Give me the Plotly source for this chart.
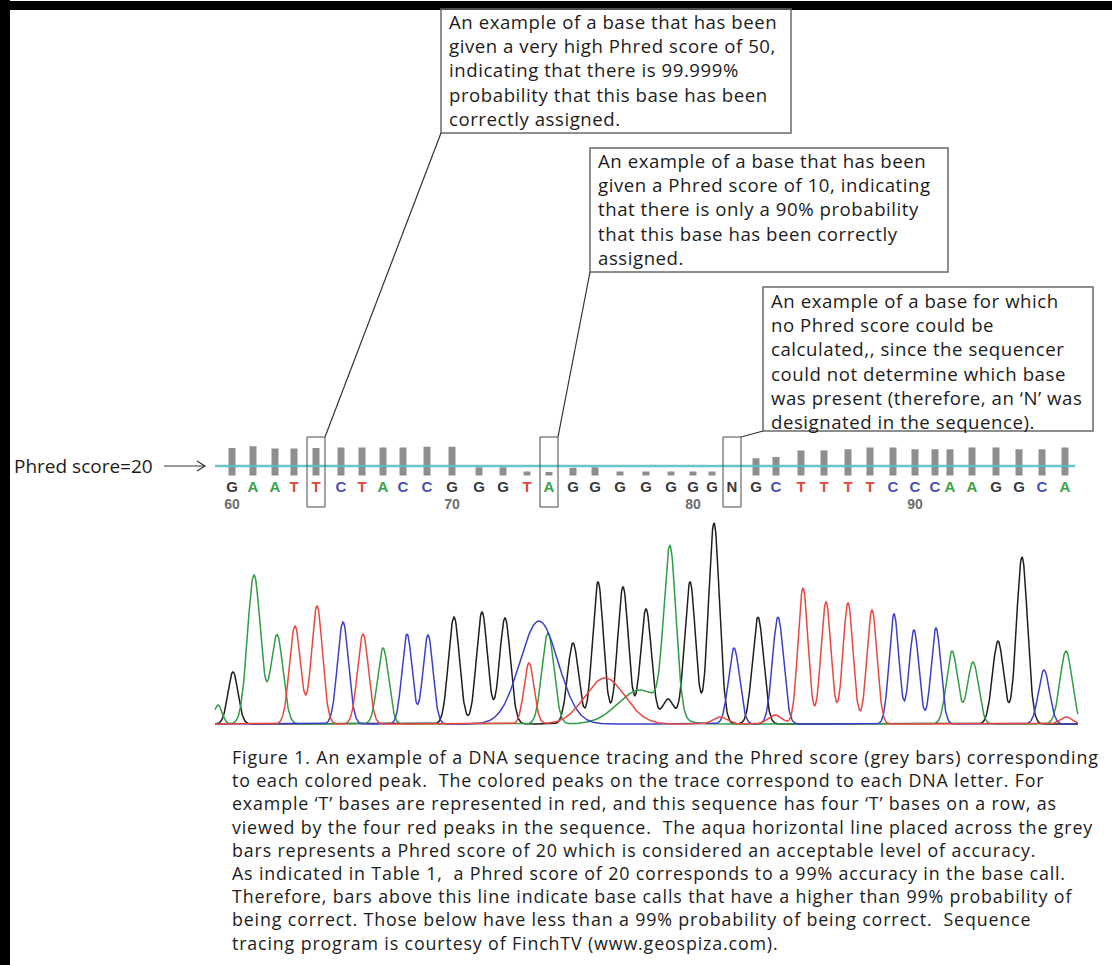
import numpy as np
import plotly.graph_objects as go

W, H = 1112, 965

# ---------------- base calls, bases 60-97 ----------------
bases = list("GAATTCTACCGGGTAGGGGGGGNGCTTTTCCCAAGGCA")
first_base = 60
# trace scan position of each called peak
peak_scan = [32, 53, 75, 94, 116, 141, 162, 183, 203, 227,
             252, 279, 303, 327, 349, 373, 395, 420, 446, 471,
             493, 512, 532, 556, 576, 601, 624, 648, 670, 693,
             715, 735, 750, 772, 796, 819, 842, 865]
# Phred quality per base (None = no score for the 'N' call)
phred = [50, 53, 49, 49, 50, 51, 51, 51, 51, 52,
         52, 18, 18, 11, 10, 17, 18, 11, 11, 11,
         11, 11, None, 33, 35, 46, 46, 48, 51, 51,
         48, 48, 48, 51, 51, 48, 48, 51]
phred_cutoff = 20
highlight_bases = [64, 74, 82]   # T (Q50), A (Q10), N (no score)

# ---------------- chromatogram peaks: (scan, height, width) ----------------
peaks_G = [(33, 520, 5.0), (254, 1070, 5.5), (282, 1120, 5.5), (305, 1060, 5.5),
           (373, 810, 5.5), (398, 1420, 5.5), (423, 1370, 5.5), (446, 1150, 5.5),
           (468, 250, 6.0), (490, 1420, 5.5), (514, 2010, 5.5), (558, 1070, 5.5),
           (798, 830, 5.5), (822, 1670, 5.5)]
peaks_A = [(18, 190, 4.0), (54, 1490, 6.5), (77, 890, 6.0), (183, 760, 5.5),
           (348, 910, 6.0), (440, 340, 22.0), (470, 1650, 6.0), (752, 730, 5.5),
           (773, 620, 5.5), (866, 730, 6.0)]
peaks_T = [(95, 980, 5.5), (117, 1180, 5.5), (163, 900, 5.5), (329, 610, 5.0),
           (405, 460, 20.0), (520, 70, 7.0), (575, 90, 7.0), (603, 1360, 5.0),
           (626, 1220, 5.0), (648, 1210, 5.0), (672, 1140, 5.0), (866, 70, 6.0)]
peaks_C = [(143, 1020, 5.5), (207, 900, 5.0), (228, 890, 5.0), (339, 1030, 19.0),
           (534, 760, 5.5), (578, 1070, 5.5), (694, 1100, 4.8), (714, 940, 4.8),
           (736, 960, 4.8), (844, 540, 5.5)]
trace_start, trace_end = 15, 878

dye_color = {"G": "#1e1e1e", "A": "#2f9e44", "T": "#e8473f", "C": "#3d3fc8"}
letter_color = {"G": "#3a3a3a", "A": "#3aa04a", "T": "#e2473d", "C": "#4a50b8", "N": "#3a3a3a"}

callout_high = ["An example of a base that has been",
                "given a very high Phred score of 50,",
                "indicating that there is 99.999%",
                "probability that this base has been",
                "correctly assigned."]
callout_low = ["An example of a base that has been",
               "given a Phred score of 10, indicating",
               "that there is only a 90% probability",
               "that this base has been correctly",
               "assigned."]
callout_n = ["An example of a base for which",
             "no Phred score could be",
             "calculated,, since the sequencer",
             "could not determine which base",
             "was present (therefore, an \u2018N\u2019 was",
             "designated in the sequence)."]
caption = ["Figure 1. An example of a DNA sequence tracing and the Phred score (grey bars) corresponding",
           "to each colored peak.  The colored peaks on the trace correspond to each DNA letter. For",
           "example \u2018T\u2019 bases are represented in red, and this sequence has four \u2018T\u2019 bases on a row, as",
           "viewed by the four red peaks in the sequence.  The aqua horizontal line placed across the grey",
           "bars represents a Phred score of 20 which is considered an acceptable level of accuracy.",
           "As indicated in Table 1,  a Phred score of 20 corresponds to a 99% accuracy in the base call.",
           "Therefore, bars above this line indicate base calls that have a higher than 99% probability of",
           "being correct. Those below have less than a 99% probability of being correct.  Sequence",
           "tracing program is courtesy of FinchTV (www.geospiza.com)."]

# ---------------- helpers for page placement ----------------
XR = (-200, W - 200)          # scan range across the page width
LINE = 1.3                    # plotly's multi-line spacing, in font sizes


def px(v):
    return v / W


def py(v):
    return 1 - v / H


def scan_paper(s):
    return (s - XR[0]) / (XR[1] - XR[0])


def text_block(lines, x_left, first_center, step, spacing):
    """One left-aligned multi-line annotation; line pitch `step` px."""
    size = step / LINE
    body = "<br>".join(f'<span style="letter-spacing:{spacing}px">{t}</span>' for t in lines)
    center = first_center + step * (len(lines) - 1) / 2
    return dict(text=body, xref="paper", yref="paper", x=px(x_left), y=py(center),
                xanchor="left", yanchor="middle", align="left", showarrow=False,
                font=dict(family="Open Sans", size=size, color="#1c1c1c"))


fig = go.Figure()

# quality bars
bar_x = [s for s, q in zip(peak_scan, phred) if q is not None]
bar_y = [q for q in phred if q is not None]
fig.add_trace(go.Bar(x=bar_x, y=bar_y, width=7, marker=dict(color="#8e8e8e", line=dict(width=0)),
                     xaxis="x", yaxis="y", hoverinfo="skip"))

# base letters and position numbers
fig.add_trace(go.Scatter(x=peak_scan, y=[0.7] * len(bases), mode="text", text=bases,
                         textfont=dict(family="Liberation Sans", size=15, weight="bold",
                                       color=[letter_color[b] for b in bases]),
                         xaxis="x", yaxis="y3", cliponaxis=False, hoverinfo="skip"))
num_idx = [i for i in range(len(bases)) if (first_base + i) % 10 == 0]
fig.add_trace(go.Scatter(x=[peak_scan[i] for i in num_idx], y=[0.19] * len(num_idx), mode="text",
                         text=[str(first_base + i) for i in num_idx],
                         textfont=dict(family="Liberation Sans", size=14, weight="bold", color="#6e6e6e"),
                         xaxis="x", yaxis="y3", cliponaxis=False, hoverinfo="skip"))

# chromatogram rebuilt from the called peak list of each dye channel
scan = np.arange(trace_start, trace_end + 0.5, 0.5)
for dye, peaks in [("G", peaks_G), ("A", peaks_A), ("C", peaks_C), ("T", peaks_T)]:
    sig = np.zeros_like(scan)
    for s, h, w in peaks:
        sig += h * np.exp(-0.5 * ((scan - s) / w) ** 2)
    fig.add_trace(go.Scatter(x=scan, y=sig, mode="lines", line=dict(color=dye_color[dye], width=1.5),
                             xaxis="x", yaxis="y2", hoverinfo="skip"))

shapes = []
# page frame (top and left edges)
shapes.append(dict(type="rect", xref="paper", yref="paper", x0=0, x1=1, y0=py(10), y1=py(1),
                   fillcolor="black", line=dict(width=0)))
shapes.append(dict(type="rect", xref="paper", yref="paper", x0=0, x1=px(10), y0=0, y1=1,
                   fillcolor="black", line=dict(width=0)))
# Phred 20 threshold line
shapes.append(dict(type="line", xref="x", yref="y", x0=trace_start, x1=trace_end - 3,
                   y0=phred_cutoff, y1=phred_cutoff, layer="above",
                   line=dict(color="rgba(88,192,196,0.9)", width=2.5)))

# boxes around highlighted bases
box_top, box_bot = 437, 507
corners = {}
for b in highlight_bases:
    s = peak_scan[b - first_base]
    shapes.append(dict(type="rect", xref="x", yref="paper", x0=s - 9, x1=s + 9,
                       y0=py(box_bot), y1=py(box_top), line=dict(color="#4a4a4a", width=1)))
    corners[b] = scan_paper(s + 9)

# callout boxes
callouts = [
    (callout_high, (441, 9, 791, 133), 64),
    (callout_low, (590, 148, 948, 272), 74),
    (callout_n, (763, 287, 1093, 431), 82),
]
annotations = []
for lines, (x0, y0, x1, y1), target in callouts:
    shapes.append(dict(type="rect", xref="paper", yref="paper", x0=px(x0), x1=px(x1),
                       y0=py(y1), y1=py(y0), line=dict(color="#6a6a6a", width=1.5)))
    shapes.append(dict(type="line", xref="paper", yref="paper", x0=px(x0), y0=py(y1),
                       x1=corners[target], y1=py(box_top), line=dict(color="#333333", width=1.2)))
    annotations.append(text_block(lines, x0 + 6, y0 + 13, 24.2, 0.55))

# Phred score label and arrow
annotations.append(dict(text="Phred score=20", xref="paper", yref="paper", x=px(12), y=py(466),
                        xanchor="left", yanchor="middle", showarrow=False,
                        font=dict(family="Open Sans", size=19, color="#1c1c1c")))
shapes.append(dict(type="line", xref="paper", yref="paper", x0=px(164), x1=px(205), y0=py(466), y1=py(466),
                   line=dict(color="#333333", width=1.2)))
shapes.append(dict(type="path", xref="paper", yref="paper",
                   path=f"M {px(197)} {py(461)} L {px(205)} {py(466)} L {px(197)} {py(471)}",
                   line=dict(color="#333333", width=1.2)))

# caption
annotations.append(text_block(caption, 230, 757, 23.2, 0.85))

axis_off = dict(visible=False, showgrid=False, zeroline=False, fixedrange=True)
fig.update_layout(
    width=W, height=H, margin=dict(l=0, r=0, t=0, b=0),
    paper_bgcolor="white", plot_bgcolor="rgba(0,0,0,0)", showlegend=False, barmode="overlay",
    xaxis=dict(range=list(XR), domain=[0, 1], **axis_off),
    yaxis=dict(range=[4, 60], domain=[py(475.6), py(442)], **axis_off),
    yaxis2=dict(range=[-15, 2100], domain=[py(725.5), py(514)], **axis_off),
    yaxis3=dict(range=[0, 1], domain=[py(512), py(478)], **axis_off),
    shapes=shapes, annotations=annotations,
)

fig.write_html("out.html")
